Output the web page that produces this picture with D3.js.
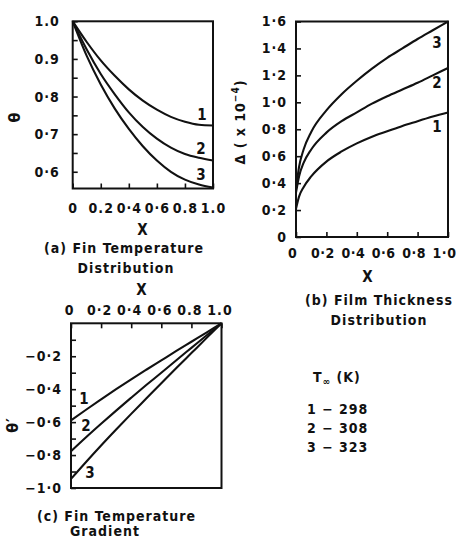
<!DOCTYPE html>
<html><head><meta charset="utf-8">
<script src="https://cdn.jsdelivr.net/npm/d3@7"></script>
<style>
html,body{margin:0;padding:0;background:#fff;}
svg{display:block;}
text{font-family:"DejaVu Sans Condensed","DejaVu Sans",sans-serif;font-weight:bold;fill:#111;}
</style></head><body>
<svg id="c" width="456" height="541"></svg>
<script>
// ---------- data ----------
const xA = [0,0.1,0.2,0.3,0.4,0.5,0.6,0.7,0.8,0.9,1.0];
const theta298 = [1.0,0.945,0.896,0.855,0.819,0.789,0.765,0.746,0.733,0.725,0.723];
const theta308 = [1.0,0.925,0.860,0.806,0.758,0.719,0.688,0.664,0.647,0.637,0.630];
const theta323 = [1.0,0.908,0.832,0.768,0.714,0.668,0.630,0.600,0.579,0.566,0.558];

const xB = [0,0.02,0.05,0.1,0.2,0.3,0.4,0.5,0.6,0.7,0.8,0.9,1.0];
const delta298 = [0.21,0.30,0.37,0.45,0.56,0.635,0.695,0.745,0.785,0.825,0.86,0.895,0.925];
const delta308 = [0.33,0.45,0.55,0.65,0.775,0.86,0.925,0.99,1.045,1.095,1.145,1.20,1.255];
const delta323 = [0.36,0.52,0.65,0.78,0.94,1.06,1.16,1.25,1.33,1.40,1.47,1.535,1.60];

const xC = [0,0.1,0.2,0.3,0.4,0.5,0.6,0.7,0.8,0.9,1.0];
const grad298 = [-0.59,-0.525,-0.462,-0.40,-0.34,-0.282,-0.225,-0.168,-0.112,-0.056,0];
const grad308 = [-0.777,-0.692,-0.61,-0.53,-0.452,-0.375,-0.30,-0.224,-0.149,-0.074,0];
const grad323 = [-0.945,-0.842,-0.742,-0.645,-0.55,-0.457,-0.364,-0.272,-0.181,-0.09,0];

const curveKeys = ["1","2","3"];
const legendTemps = ["298","308","323"];

const aXTicks = [0,0.2,0.4,0.6,0.8,1.0];
const aXLabels = ["0","0.2","0·4","0·6","0.8","1.0"];
const aYTicks = [0.6,0.7,0.8,0.9,1.0];
const aYLabels = ["0·6","0·7","0·8","0.9","1.0"];
const aYMinor = [0.65,0.75,0.85,0.95];

const bXTicks = [0,0.2,0.4,0.6,0.8,1.0];
const bXLabels = ["0","0·2","0·4","0·6","0·8","1·0"];
const bYTicks = [0,0.2,0.4,0.6,0.8,1.0,1.2,1.4,1.6];
const bYLabels = ["0","0·2","0·4","0·6","0·8","1·0","1·2","1·4","1·6"];

const cXTicks = [0,0.2,0.4,0.6,0.8,1.0];
const cXLabels = ["0","0·2","0·4","0·6","0.8","1.0"];
const cYTicks = [-0.2,-0.4,-0.6,-0.8,-1.0];
const cYLabels = ["−0·2","−0·4","−0·6","−0·8","−1·0"];
const cYMinor = [-0.1,-0.3,-0.5,-0.7,-0.9];

// ---------- drawing ----------
const svg = d3.select("#c");
const FS = 14;

function panel(o){
  const g = svg.append("g");
  const x = d3.scaleLinear().domain([0,1]).range([o.left,o.right]);
  const y = d3.scaleLinear().domain(o.ydom).range([o.bottom,o.top]);
  const xAxis = (o.xTop ? d3.axisTop(x) : d3.axisBottom(x))
      .tickValues(o.xTicks).tickSizeInner(-5).tickSizeOuter(0)
      .tickPadding(o.xPad).tickFormat((d,i)=>o.xLabels[i]);
  const gx = g.append("g").attr("transform",`translate(0,${o.xTop?o.top:o.bottom})`).call(xAxis);
  const yAxis = d3.axisLeft(y).tickValues(o.yTicks).tickSizeInner(-5).tickSizeOuter(0)
      .tickPadding(o.yPad).tickFormat((d,i)=>o.yLabels[i]);
  g.append("g").attr("transform",`translate(${o.left},0)`).call(yAxis);
  if(o.yMinor){
    g.append("g").attr("transform",`translate(${o.left},0)`)
     .call(d3.axisLeft(y).tickValues(o.yMinor).tickSizeInner(-5).tickSizeOuter(0).tickFormat(""));
  }
  g.selectAll(".domain").remove();
  g.selectAll(".tick line").attr("stroke","#111").attr("stroke-width",1.6);
  g.selectAll(".tick text").attr("font-size",FS).attr("font-family",null).attr("letter-spacing",1).style("fill","#111");
  gx.selectAll("text").attr("dx",o.xdx||0).attr("letter-spacing",o.xls==null?1:o.xls);
  g.append("rect").attr("x",o.left).attr("y",o.top).attr("width",o.right-o.left).attr("height",o.bottom-o.top)
    .attr("fill","none").attr("stroke","#111").attr("stroke-width",2);
  const line = d3.line().x(d=>x(d[0])).y(d=>y(d[1])).curve(d3.curveMonotoneX);
  o.series.forEach(s=>{
    g.append("path").datum(o.xs.map((v,i)=>[v,s[i]])).attr("d",line)
      .attr("fill","none").attr("stroke","#111").attr("stroke-width",2.1);
  });
  o.keyPos.forEach((p,i)=>{
    g.append("text").attr("x",p[0]).attr("y",p[1]).attr("font-size",FS+1).attr("text-anchor","middle")
      .attr("dy","0.35em").text(curveKeys[i]);
  });
  return g;
}

panel({left:72.7,right:213,top:21.3,bottom:188.5,ydom:[0.5555,1.0],
  xTicks:aXTicks,xLabels:aXLabels,xPad:14.5,yTicks:aYTicks,yLabels:aYLabels,yMinor:aYMinor,yPad:13,
  xs:xA,series:[theta298,theta308,theta323],
  keyPos:[[202,115],[201,149],[201,175]]});

panel({left:296,right:448,top:21.5,bottom:237,ydom:[0,1.6],
  xTicks:bXTicks,xLabels:bXLabels,xPad:11,xdx:-4,xls:0.5,yTicks:bYTicks,yLabels:bYLabels,yPad:9,
  xs:xB,series:[delta298,delta308,delta323],
  keyPos:[[437,127],[437,83],[437,43]]});

panel({left:71,right:221.5,top:323.3,bottom:488,ydom:[-1.0,0],xTop:true,
  xTicks:cXTicks,xLabels:cXLabels,xPad:8.5,xdx:-2,yTicks:cYTicks,yLabels:cYLabels,yMinor:cYMinor,yPad:9,
  xs:xC,series:[grad298,grad308,grad323],
  keyPos:[[84,399],[86,426],[90,473]]});

function txt(x,y,s,opts={}){
  const t = svg.append("text").attr("x",x).attr("y",y).attr("font-size",opts.fs||FS)
    .attr("text-anchor",opts.anchor||"middle").attr("letter-spacing",opts.ls==null?1:opts.ls);
  if(opts.rot) t.attr("transform",`rotate(-90,${x},${y})`);
  t.text(s);
  return t;
}
txt(20,117,"θ",{rot:true,fs:16});
const dl = svg.append("text").attr("x",245).attr("y",122).attr("font-size",FS).attr("text-anchor","middle")
  .attr("letter-spacing",1).attr("transform","rotate(-90,245,122)");
dl.append("tspan").text("Δ ( x 10");
dl.append("tspan").attr("font-size",10).attr("dy",-6).text("−4");
dl.append("tspan").attr("dy",6).text(")");
txt(18,425,"θ′",{rot:true,fs:16});

txt(143,235,"X",{fs:15});
txt(368,282,"X",{fs:15});
txt(142,295,"X",{fs:15});

txt(44,253,"(a)  Fin Temperature",{anchor:"start"});
txt(126,273,"Distribution");
txt(305,305,"(b)  Film Thickness",{anchor:"start"});
txt(379,325,"Distribution");
txt(37,521,"(c)  Fin Temperature",{anchor:"start"});
txt(105,536,"Gradient");

const lt = svg.append("text").attr("x",313).attr("y",382).attr("font-size",FS).attr("letter-spacing",1);
lt.append("tspan").text("T");
lt.append("tspan").attr("font-size",10).attr("dy",3).text("∞");
lt.append("tspan").attr("dy",-3).text(" (K)");
curveKeys.forEach((k,i)=>{
  svg.append("text").attr("x",307).attr("y",414+i*19).attr("font-size",FS).attr("letter-spacing",1)
    .text(`${k} − ${legendTemps[i]}`);
});
</script>
</body></html>
